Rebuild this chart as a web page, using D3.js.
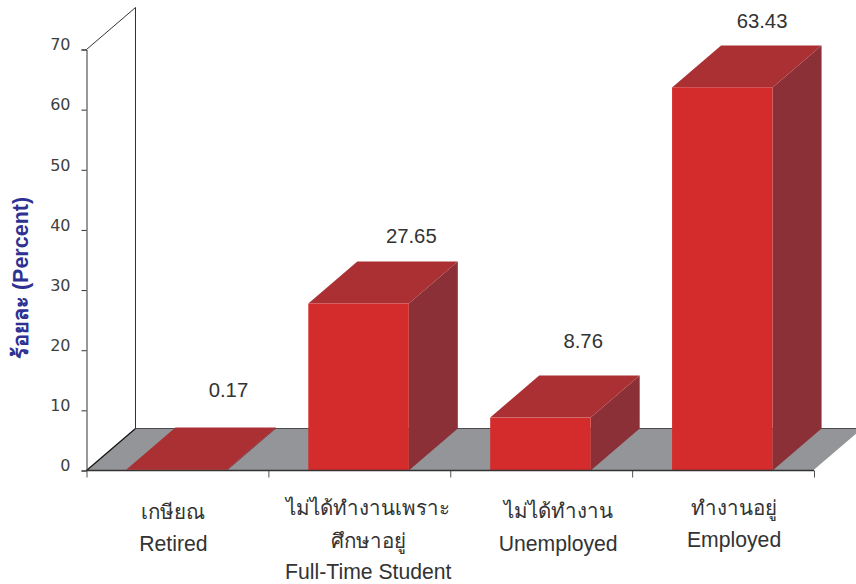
<!DOCTYPE html>
<html><head><meta charset="utf-8">
<script src="https://cdn.jsdelivr.net/npm/d3@7"></script>
<style>
html,body{margin:0;padding:0;background:#fff}
svg{display:block}
</style></head><body><svg id="c" width="856" height="584"></svg>
<script>
const categories = ["Retired","Full-Time Student","Unemployed","Employed"];
const values = [0.17,27.65,8.76,63.43];
const valueLabels = ["0.17","27.65","8.76","63.43"];
const thaiLines = [["เกษียณ"],["ไม่ได้ทำงานเพราะ","ศึกษาอยู่"],["ไม่ได้ทำงาน"],["ทำงานอยู่"]];
const yTicks = [0,10,20,30,40,50,60,70];
const yTitle = "ร้อยละ (Percent)";

// layout
const plotLeft=86.5,plotRight=814,base=470.5,plotTop=49.5,depthX=49,depthY=-42,barUnit=6.04;
const valueDx=[51,52,42,39], valueDy=[80,68,77,66];
const labelDx=[-4,9,17,11], labelYs=[[512,544],[508,541,572],[511,544],[508,540]];
const latin='"Liberation Sans",Arial,sans-serif';
const thai='"Liberation Sans","Noto Sans",sans-serif';

const svg=d3.select("#c");
const x=d3.scaleBand().domain(categories).range([plotLeft,plotRight]).paddingInner(0).paddingOuter(0);
const y=d3.scaleLinear().domain([0,70]).range([base,plotTop]);
const barY=d3.scaleLinear().domain([0,70]).range([base,base-70*barUnit]);
const barW=100.5;
const bx=c=>x(c)+x.bandwidth()/2-51;
const poly=p=>p.map(a=>a.join(",")).join(" ");

// back wall
svg.append("polyline").attr("points",poly([[plotLeft,y(70)],[plotLeft+depthX,y(70)+depthY],[plotLeft+depthX,base+depthY]]))
  .attr("fill","none").attr("stroke","#333").attr("stroke-width",1);
// floor
svg.append("polygon").attr("points",poly([[plotLeft,base],[plotLeft+depthX,base+depthY],[plotRight+depthX,base+depthY],[plotRight,base]])).attr("fill","#939598");
svg.append("line").attr("x1",plotLeft+depthX).attr("x2",plotRight+depthX).attr("y1",base+depthY).attr("y2",base+depthY).attr("stroke","#4d4d4f").attr("stroke-width",1);
svg.append("line").attr("x1",plotRight).attr("y1",base).attr("x2",plotRight+depthX).attr("y2",base+depthY).attr("stroke","#fff").attr("stroke-width",1.2);
svg.append("line").attr("x1",plotLeft).attr("y1",base).attr("x2",plotLeft+depthX).attr("y2",base+depthY).attr("stroke","#111").attr("stroke-width",1.2);

// axes
const ya=svg.append("g").attr("transform",`translate(${plotLeft},0)`).call(d3.axisLeft(y).tickValues(yTicks).tickSize(5).tickFormat(d3.format("d")));
ya.select(".domain").attr("stroke","#333");
ya.selectAll(".tick line").attr("stroke","#333");
ya.selectAll("text").attr("font-family",'"DejaVu Sans",sans-serif').attr("font-size",16).attr("fill","#3f3f3f").attr("x",-16).attr("dy","0.02em");
const xTickVals=d3.range(categories.length+1).map(i=>plotLeft+i*x.bandwidth());
const xa=svg.append("g").attr("transform",`translate(0,${base})`).call(d3.axisBottom(d3.scaleIdentity()).tickValues(xTickVals).tickSize(7).tickFormat(""));
xa.select(".domain").remove();
xa.selectAll(".tick line").attr("stroke","#555");

// bars
const g=svg.selectAll("g.bar").data(categories.map((c,i)=>({c,v:values[i],i}))).join("g").attr("class","bar");
g.append("polygon").attr("fill","#8a3036").attr("points",d=>{const X=bx(d.c)+barW,T=barY(d.v);return poly([[X,base],[X+depthX,base+depthY],[X+depthX,T+depthY],[X,T]]);});
g.append("polygon").attr("fill","#ab3033").attr("points",d=>{const X=bx(d.c),T=barY(d.v);return poly([[X,T],[X+depthX,T+depthY],[X+barW+depthX,T+depthY],[X+barW,T]]);});
g.append("rect").attr("fill","#d42c2c").attr("x",d=>bx(d.c)).attr("y",d=>barY(d.v)).attr("width",barW).attr("height",d=>base-barY(d.v));

// baseline
svg.append("line").attr("x1",plotLeft).attr("x2",plotRight).attr("y1",base).attr("y2",base).attr("stroke","#333").attr("stroke-width",1.4);

// value labels
g.append("text").text(d=>valueLabels[d.i]).attr("text-anchor","middle").attr("font-family",latin).attr("font-size",20.3).attr("fill","#333")
 .attr("x",d=>x(d.c)+x.bandwidth()/2+valueDx[d.i]).attr("y",d=>barY(d.v)-valueDy[d.i]).attr("dy","0.35em");

// category labels
categories.forEach((c,i)=>{
  thaiLines[i].concat([c]).forEach((t,j)=>{
    const isThai=j<thaiLines[i].length;
    svg.append("text").text(t).attr("text-anchor","middle").attr("font-family",isThai?thai:latin).attr("font-size",isThai?20.5:21.2).attr("fill","#333")
      .attr("x",x(c)+x.bandwidth()/2+labelDx[i]).attr("y",labelYs[i][j]).attr("dy","0.35em");
  });
});

// y title
svg.append("text").text(yTitle).attr("transform","translate(20,278) rotate(-90)").attr("text-anchor","middle").attr("dy","0.35em")
  .attr("font-family",thai).attr("font-weight","bold").attr("font-size",21.5).attr("fill","#2e3192");
</script></body></html>
